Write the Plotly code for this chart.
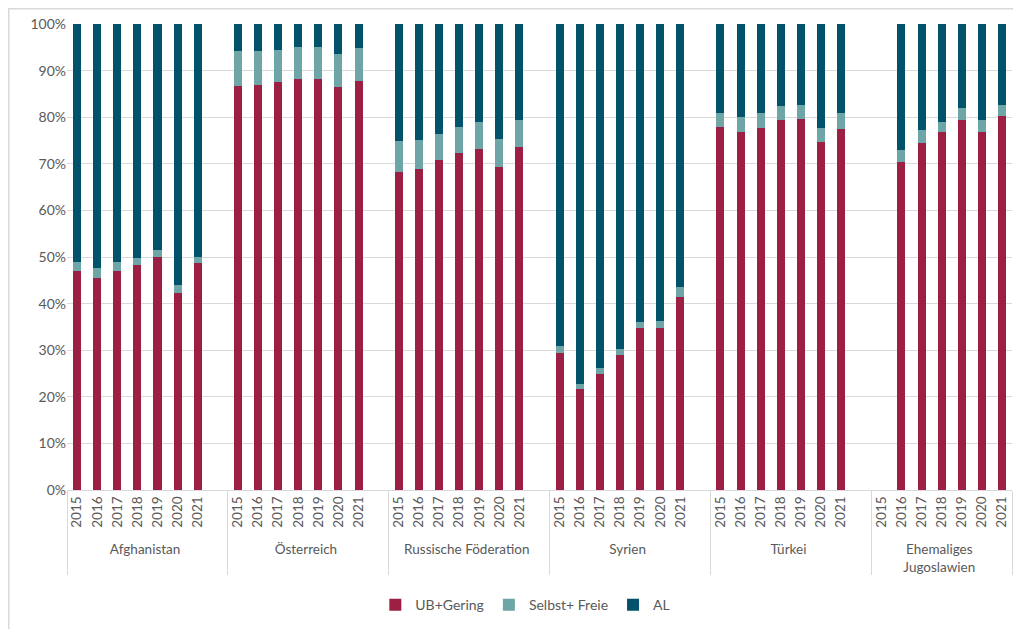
import plotly.graph_objects as go

countries = ["Afghanistan", "Österreich", "Russische Föderation", "Syrien", "Türkei",
             "Ehemaliges<br>Jugoslawien"]
years = ["2015", "2016", "2017", "2018", "2019", "2020", "2021"]

# shares in %, one row per country (2015..2021)
ub_gering = [
    [47.0, 45.5, 46.9, 48.3, 50.1, 42.3, 48.8],
    [86.8, 86.9, 87.5, 88.1, 88.2, 86.4, 87.7],
    [68.3, 68.9, 70.8, 72.3, 73.2, 69.4, 73.5],
    [29.3, 21.7, 25.0, 28.9, 34.8, 34.8, 41.4],
    [77.9, 76.9, 77.7, 79.3, 79.6, 74.7, 77.5],
    [None, 70.4, 74.5, 76.8, 79.5, 76.9, 80.2],
]
selbst_freie = [
    [1.9, 2.1, 2.0, 1.4, 1.3, 1.7, 1.2],
    [7.3, 7.3, 7.0, 6.9, 6.9, 7.1, 7.1],
    [6.5, 6.2, 5.7, 5.6, 5.8, 5.9, 5.9],
    [1.6, 1.0, 1.2, 1.4, 1.2, 1.5, 2.2],
    [3.0, 3.2, 3.1, 3.0, 3.1, 3.0, 3.3],
    [None, 2.5, 2.7, 2.2, 2.5, 2.5, 2.4],
]
al = [
    [51.1, 52.4, 51.1, 50.3, 48.6, 56.0, 50.0],
    [5.9, 5.8, 5.5, 5.0, 4.9, 6.5, 5.2],
    [25.2, 24.9, 23.5, 22.1, 21.0, 24.7, 20.6],
    [69.1, 77.3, 73.8, 69.7, 64.0, 63.7, 56.4],
    [19.1, 19.9, 19.2, 17.7, 17.3, 22.3, 19.2],
    [None, 27.1, 22.8, 21.0, 18.0, 20.6, 17.4],
]

series = [("UB+Gering", ub_gering, "#9c2043"),
          ("Selbst+ Freie", selbst_freie, "#6ea5a7"),
          ("AL", al, "#01526a")]

# build multicategory x with an empty slot after each group (like the Excel sheet)
x_outer, x_inner = [], []
for i, c in enumerate(countries):
    for y in years:
        x_outer.append(c)
        x_inner.append(y)
    if i < len(countries) - 1:
        x_outer.append(c)
        x_inner.append(" ")


def flat(rows):
    out = []
    for i, r in enumerate(rows):
        out += r
        if i < len(rows) - 1:
            out.append(None)
    return out


fig = go.Figure()
for name, rows, color in series:
    fig.add_trace(go.Bar(
        x=[x_outer, x_inner],
        y=flat(rows),
        name=name,
        marker=dict(color=color, line=dict(width=0)),
    ))

grey = "#d9d9d9"
txt = "#595959"
# page body has an 8px margin, so the figure is sized/offset to fit inside it
fig.update_layout(
    barmode="stack",
    bargap=0.6,
    width=1005, height=621,
    margin=dict(l=59, r=1, t=16, b=139, autoexpand=False),
    paper_bgcolor="white",
    plot_bgcolor="white",
    font=dict(family="Lato, Open Sans, sans-serif", color=txt, size=14),
    showlegend=True,
    legend=dict(orientation="h", x=0.485, xanchor="center", y=-0.247, yanchor="middle",
                font=dict(size=14, color=txt), traceorder="normal", itemwidth=30),
    xaxis=dict(
        type="multicategory",
        automargin=False,
        tickangle=-90,
        tickfont=dict(size=13.5, color=txt),
        showline=True, linecolor=grey, linewidth=1,
        showdividers=True, dividercolor=grey, dividerwidth=1,
        ticks="",
        showgrid=False,
    ),
    yaxis=dict(
        automargin=False,
        range=[0, 100],
        dtick=10,
        ticksuffix="%",
        showgrid=True, gridcolor=grey, gridwidth=1,
        zeroline=False,
        tickfont=dict(size=14, color=txt),
        ticks="",
    ),
    shapes=[dict(type="rect", xref="paper", yref="paper",
                 x0=(0.75 - 59) / 945, x1=(1030 - 59) / 945,
                 y0=-0.5, y1=1 + (16 - 0.75) / 466,
                 line=dict(color=grey, width=1.5), layer="above")],
)

fig.write_html("out.html")
